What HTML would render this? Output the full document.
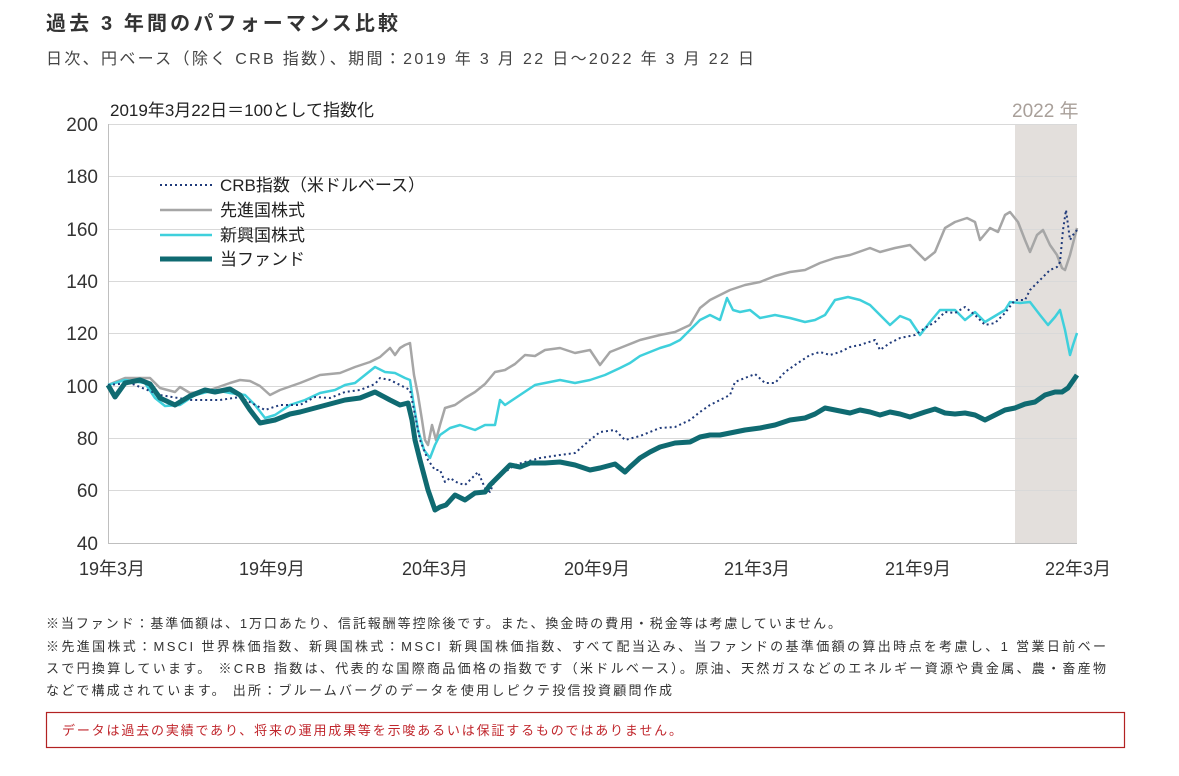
<!DOCTYPE html>
<html><head><meta charset="utf-8"><style>
body{margin:0;background:#fff;}
svg text{font-family:"Liberation Sans","Noto Sans CJK JP",sans-serif;}
</style></head><body>
<svg width="1179" height="771" viewBox="0 0 1179 771" xmlns="http://www.w3.org/2000/svg">
<rect width="1179" height="771" fill="#fff"/>
<text x="46" y="30" font-size="20" font-weight="bold" fill="#333" textLength="352">過去 3 年間のパフォーマンス比較</text>
<text x="46" y="64" font-size="16" fill="#444" textLength="708">日次、円ベース（除く CRB 指数）、期間：2019 年 3 月 22 日～2022 年 3 月 22 日</text>
<rect x="1015" y="124" width="62" height="419" fill="#e3dfdc"/>
<text x="1012" y="117" font-size="19" fill="#a9a09a">2022 年</text>
<g stroke="#d9d9d9" stroke-width="1">
<line x1="108" y1="124.5" x2="1077" y2="124.5"/><line x1="108" y1="176.5" x2="1077" y2="176.5"/>
<line x1="108" y1="229.5" x2="1077" y2="229.5"/><line x1="108" y1="281.5" x2="1077" y2="281.5"/>
<line x1="108" y1="333.5" x2="1077" y2="333.5"/><line x1="108" y1="386.5" x2="1077" y2="386.5"/>
<line x1="108" y1="438.5" x2="1077" y2="438.5"/><line x1="108" y1="490.5" x2="1077" y2="490.5"/>
</g>
<line x1="108.5" y1="124" x2="108.5" y2="543" stroke="#bfbfbf"/>
<line x1="108" y1="543.5" x2="1077" y2="543.5" stroke="#bfbfbf"/>
<g font-size="19" fill="#333" text-anchor="end">
<text x="98" y="131">200</text><text x="98" y="183">180</text><text x="98" y="236">160</text>
<text x="98" y="288">140</text><text x="98" y="340">120</text><text x="98" y="393">100</text>
<text x="98" y="445">80</text><text x="98" y="497">60</text><text x="98" y="550">40</text>
</g>
<g font-size="18" fill="#333" text-anchor="middle">
<text x="112" y="575">19年3月</text><text x="272" y="575">19年9月</text><text x="435" y="575">20年3月</text>
<text x="597" y="575">20年9月</text><text x="757" y="575">21年3月</text><text x="918" y="575">21年9月</text>
<text x="1078" y="575">22年3月</text>
</g>
<text x="110" y="116" font-size="17" fill="#222">2019年3月22日＝100として指数化</text>
<g fill="none" stroke-linejoin="round">
<polyline stroke="#a6a6a6" stroke-width="2.5" points="108,385 125,378 150,378 160,388 175,392 180,387 190,393 200,392 210,390 230,383 240,380 250,381 260,386 270,395 280,390 300,383 320,375 340,373 355,367 370,362 380,357 390,348 395,355 400,348 405,345 410,343 414,375 418,395 422,420 425,440 428,445 432,425 436,440 440,425 445,408 455,405 465,398 475,392 485,384 490,378 495,372 505,370 515,364 525,355 535,356 545,350 560,348 575,353 590,350 600,365 610,352 625,346 640,340 660,335 675,332 690,325 700,308 710,300 730,290 745,285 760,282 775,276 790,272 805,270 820,263 835,258 850,255 870,248 880,252 895,248 910,245 925,260 935,252 945,228 955,222 967,218 975,222 980,240 990,228 998,232 1005,215 1010,212 1018,222 1025,240 1030,252 1037,235 1043,230 1050,245 1057,255 1062,268 1065,270 1070,255 1077,228"/>
<polyline stroke="#3fd0dc" stroke-width="2.5" points="108,385 125,380 145,383 155,398 165,406 180,405 195,395 215,390 230,393 245,395 255,405 265,418 275,415 290,405 305,400 320,393 335,390 345,385 355,383 365,375 375,367 385,372 395,373 405,378 410,380 413,400 418,430 424,450 430,458 435,445 440,435 450,428 460,425 475,430 485,425 495,425 500,400 505,405 520,395 535,385 545,383 560,380 575,383 590,380 605,375 620,368 630,363 640,356 650,352 660,348 670,345 680,340 690,330 700,320 710,315 720,320 727,298 733,310 740,312 750,310 760,318 775,315 790,318 805,322 815,320 825,315 835,300 848,297 860,300 870,305 880,315 890,325 900,316 910,320 920,335 930,322 940,310 955,310 965,320 975,312 985,322 995,316 1005,310 1010,302 1020,303 1030,302 1040,315 1048,325 1055,317 1060,310 1065,330 1070,355 1073,345 1077,333"/>
<polyline stroke="#1f3a7a" stroke-width="2" stroke-dasharray="2,3" points="108,385 130,383 160,395 190,400 220,400 240,397 265,410 280,405 300,405 315,397 330,398 345,392 360,390 375,384 380,378 390,380 400,385 410,390 414,410 420,440 428,460 435,470 440,470 445,482 450,478 458,483 465,485 470,480 478,472 485,488 490,492 495,480 505,472 515,465 525,462 540,458 560,455 575,453 590,440 600,432 615,430 625,440 640,436 660,428 675,427 690,420 700,412 710,405 720,400 730,395 735,382 745,378 755,374 765,383 775,383 785,372 795,365 810,355 820,352 830,355 840,352 850,347 860,345 875,340 880,350 890,343 900,338 915,335 925,328 935,322 945,312 955,313 965,307 975,315 985,325 995,323 1005,313 1015,300 1025,300 1030,290 1040,280 1050,270 1057,267 1060,262 1063,230 1066,210 1070,240 1073,235 1077,230"/>
<polyline stroke="#0f6a71" stroke-width="5" points="108,385 115,397 125,383 140,380 150,384 160,398 175,405 190,396 205,390 215,392 230,389 240,395 250,410 260,423 275,420 290,414 300,412 315,408 330,404 345,400 360,398 375,392 390,400 400,405 408,403 412,420 415,440 420,460 428,490 435,510 440,507 446,505 455,495 465,500 475,493 485,492 490,485 500,475 510,465 520,467 530,463 545,463 560,462 575,465 590,470 600,468 615,464 625,472 630,467 640,458 650,452 660,447 675,443 690,442 700,437 710,435 720,435 730,433 745,430 760,428 775,425 790,420 805,418 815,414 825,408 835,410 850,413 860,410 870,412 880,415 890,412 900,414 910,417 925,412 935,409 945,413 955,414 965,413 975,415 985,420 995,415 1005,410 1015,408 1025,404 1035,402 1045,395 1055,392 1062,392 1068,388 1077,375"/>
</g>
<g font-size="17" fill="#222">
<line x1="160" y1="185" x2="212" y2="185" stroke="#1f3a7a" stroke-width="2" stroke-dasharray="2,3"/>
<text x="220" y="191">CRB指数（米ドルベース）</text>
<line x1="160" y1="210" x2="212" y2="210" stroke="#a6a6a6" stroke-width="2.5"/>
<text x="220" y="216">先進国株式</text>
<line x1="160" y1="235" x2="212" y2="235" stroke="#3fd0dc" stroke-width="2.5"/>
<text x="220" y="241">新興国株式</text>
<line x1="160" y1="259" x2="212" y2="259" stroke="#0f6a71" stroke-width="5"/>
<text x="220" y="265">当ファンド</text>
</g>
<g font-size="13" fill="#333">
<text x="46" y="628" textLength="795">※当ファンド：基準価額は、1万口あたり、信託報酬等控除後です。また、換金時の費用・税金等は考慮していません。</text>
<text x="46" y="651" textLength="1060">※先進国株式：MSCI 世界株価指数、新興国株式：MSCI 新興国株価指数、すべて配当込み、当ファンドの基準価額の算出時点を考慮し、1 営業日前ベー</text>
<text x="46" y="673" textLength="1060">スで円換算しています。 ※CRB 指数は、代表的な国際商品価格の指数です（米ドルベース）。原油、天然ガスなどのエネルギー資源や貴金属、農・畜産物</text>
<text x="46" y="695" textLength="626">などで構成されています。 出所：ブルームバーグのデータを使用しピクテ投信投資顧問作成</text>
</g>
<rect x="46.5" y="712.5" width="1078" height="35" fill="none" stroke="#b22222" stroke-width="1.2"/>
<text x="62" y="735" font-size="13" fill="#c0262c" textLength="620">データは過去の実績であり、将来の運用成果等を示唆あるいは保証するものではありません。</text>
</svg>
</body></html>
